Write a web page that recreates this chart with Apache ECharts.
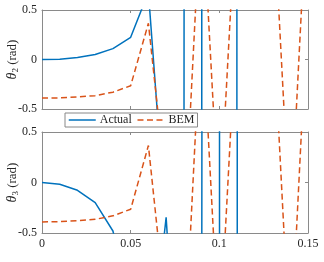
<!DOCTYPE html>
<html>
<head>
<meta charset="utf-8">
<script src="https://cdn.jsdelivr.net/npm/echarts@6/dist/echarts.min.js"></script>
<style>html,body{margin:0;padding:0;background:#fff}#c{width:324px;height:262px}</style>
</head>
<body>
<div id="c"></div>
<script>
// time samples
var tValues = [0, 0.01, 0.02, 0.03, 0.04, 0.05, 0.06, 0.07, 0.08, 0.09, 0.10, 0.11, 0.12, 0.13, 0.14, 0.15];
// theta2 actual (diverges after 0.06)
var theta2Actual = [0, 0.003, 0.02, 0.05, 0.11, 0.224, 0.68, -1.72, -3, 300, -30000, 300, 3000, 30000, 300000, 3000000];
// theta3 actual
var theta3Actual = [0, -0.018, -0.077, -0.2, -0.48, -1.2, -1.96, -0.345, -3.1, -3, 200, -20000, 2000000, 2000000, 2000000, 2000000];
// BEM (same for both)
var bemValues = [-0.39, -0.388, -0.378, -0.365, -0.33, -0.265, 0.366, -1.3, -1.8, 1.7, -1.6, 1.7, 1.8, 1.7, -1.7, 1.8];
var xTicks = [0, 0.05, 0.1, 0.15];
var yTicks = [-0.5, 0, 0.5];

function pairs(ys){ return tValues.map(function(t,i){ return [t, ys[i]]; }); }

var serif = '"Liberation Serif", "DejaVu Serif", serif';
var txt = '#262626';
var boxC = '#8a8a8a';
var blue = '#0072BD', orange = '#D95319';

function xAx(gi, pos, labels){
  return {
    type:'value', gridIndex: gi, position: pos, min: xTicks[0], max: xTicks[xTicks.length-1], interval: 0.05,
    axisLine:{show:true, onZero:false, lineStyle:{color:boxC, width:1}},
    axisTick:{show:true, inside:true, length:3, lineStyle:{color:boxC}},
    axisLabel:{show:labels, color:txt, fontFamily:serif, fontSize:12, margin:5},
    splitLine:{show:false}
  };
}
function yAx(gi, pos, labels, name){
  var o = {
    type:'value', gridIndex: gi, position: pos, min: yTicks[0], max: yTicks[yTicks.length-1], interval: 0.5,
    axisLine:{show:true, onZero:false, lineStyle:{color:boxC, width:1}},
    axisTick:{show:true, inside:true, length:3, lineStyle:{color:boxC}},
    axisLabel:{show:labels, color:txt, fontFamily:serif, fontSize:12, margin:5},
    splitLine:{show:false}
  };
  if (name) {
    o.name = name;
    o.nameLocation = 'middle';
    o.nameRotate = 90;
    o.nameGap = 22;
    o.nameMoveOverlap = false;
    o.nameTextStyle = {color:txt, fontFamily:serif, fontSize:13,
      rich:{
        t:{fontStyle:'italic', fontSize:14, fontFamily:serif, color:txt},
        s:{fontSize:9, fontFamily:serif, color:txt, verticalAlign:'bottom', padding:[6,0,0,0]},
        r:{fontSize:13, fontFamily:serif, color:txt}
      }};
  }
  return o;
}

var chart = echarts.init(document.getElementById('c'), null, {renderer:'canvas'});
chart.setOption({
  animation:false,
  backgroundColor:'#fff',
  grid:[
    {left:42, right:16, top:10, height:99, containLabel:false, outerBoundsMode:'none'},
    {left:42, right:16, top:132, height:101, containLabel:false, outerBoundsMode:'none'}
  ],
  xAxis:[ xAx(0,'bottom',false), xAx(0,'top',false), xAx(1,'bottom',true), xAx(1,'top',false) ],
  yAxis:[ yAx(0,'left',true,'{t|θ}{s|2}{r| (rad)}'), yAx(0,'right',false), yAx(1,'left',true,'{t|θ}{s|3}{r| (rad)}'), yAx(1,'right',false) ],
  legend:{
    left:65, top:113, orient:'horizontal',
    itemWidth:27, itemHeight:8, itemGap:5,
    padding:[1,3], borderColor:'#888', borderWidth:1, backgroundColor:'#fff',
    itemStyle:{opacity:0},
    lineStyle:{width:1.5},
    textStyle:{color:txt, fontFamily:serif, fontSize:12, padding:[0,0,0,-1]},
    data:['Actual','BEM']
  },
  series:[
    {name:'Actual', type:'line', xAxisIndex:0, yAxisIndex:0, data:pairs(theta2Actual), symbol:'none', clip:true,
      lineStyle:{color:blue, width:1.5}, itemStyle:{color:blue}},
    {name:'BEM', type:'line', xAxisIndex:0, yAxisIndex:0, data:pairs(bemValues), symbol:'none', clip:true,
      lineStyle:{color:orange, width:1.5, type:[6,3.5]}, itemStyle:{color:orange}},
    {name:'Actual', type:'line', xAxisIndex:2, yAxisIndex:2, data:pairs(theta3Actual), symbol:'none', clip:true,
      lineStyle:{color:blue, width:1.5}, itemStyle:{color:blue}},
    {name:'BEM', type:'line', xAxisIndex:2, yAxisIndex:2, data:pairs(bemValues), symbol:'none', clip:true,
      lineStyle:{color:orange, width:1.5, type:[6,3.5]}, itemStyle:{color:orange}}
  ]
});
</script>
</body>
</html>
